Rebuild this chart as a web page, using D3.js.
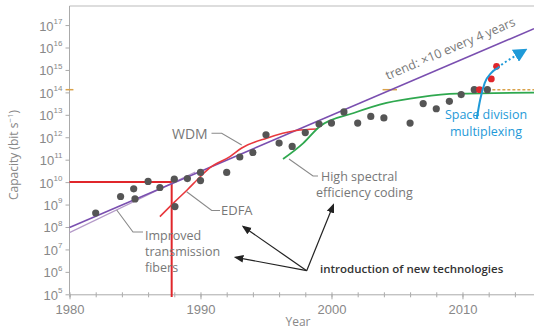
<!DOCTYPE html>
<html>
<head>
<meta charset="utf-8">
<title>Capacity trend</title>
<script src="https://d3js.org/d3.v7.min.js"></script>
<style>
  body { margin: 0; background: #fff; }
  svg { display: block; font-family: "Open Sans", sans-serif; }
  .tick line { stroke: #aaa; }
  .domain { stroke: #aaa; }
</style>
</head>
<body>
<svg id="chart" width="534" height="329"></svg>
<script>
// grey measurement points (year, log10 capacity)
const dotYears = [1982, 1983.9, 1984.9, 1985, 1986, 1986.9, 1988, 1988.05, 1989, 1990, 1990, 1992, 1993, 1994,
                  1995, 1996, 1997, 1998, 1999.05, 2000, 2000.95, 2002, 2003, 2004, 2006, 2007, 2008, 2009, 2009.9, 2010.9, 2011.9];
const dotLogs  = [8.62, 9.36, 9.7, 9.25, 10.03, 9.76, 10.13, 8.91, 10.16, 10.43, 10.07, 10.43, 11.12, 11.32,
                  12.11, 11.74, 11.59, 12.21, 12.59, 12.63, 13.13, 12.63, 12.93, 12.86, 12.63, 13.5, 13.27, 13.6, 13.9, 14.12, 14.12];
// space division multiplexing points (red)
const sdmYears = [2011.3, 2012.2, 2012.6];
const sdmLogs  = [14.12, 14.6, 15.16];

// trend line: x10 every 4 years
const trendYears = [1980, 2015.46];
const trendLogs  = [7.98, 16.84];
// improved transmission fibers (thin line)
const fiberYears = [1980, 1989.6];
const fiberLogs  = [7.75, 10.45];
// EDFA / WDM red curve
const wdmYears = [1986.9, 1988.05, 1989, 1990, 1990.7, 1992.25, 1993.15, 1995.05, 1997.3, 1998.9];
const wdmLogs  = [8.46, 9.13, 9.66, 10.25, 10.63, 11.14, 11.52, 11.96, 12.3, 12.37];
// high spectral efficiency coding (green)
const greenYears = [1996.3, 1997.85, 1999.1, 2001.7, 2004.2, 2006.8, 2009.6, 2015.46];
const greenLogs  = [11.03, 11.74, 12.48, 13.08, 13.53, 13.79, 13.94, 13.99];
// SDM blue curve, solid then dotted
const sdmSolidYears = [2011.1, 2011.35, 2011.7, 2012.2, 2012.7];
const sdmSolidLogs  = [12.86, 13.67, 14.42, 14.87, 15.09];
const sdmDotYears   = [2012.7, 2013.0, 2013.6, 2014.5];
const sdmDotLogs    = [15.09, 15.24, 15.47, 15.79];

const yearTicks  = [1980, 1990, 2000, 2010];
const minorTicks = d3.range(1980, 2015, 2);
const expTicks   = d3.range(5, 18);

const svg = d3.select("#chart");
const x = d3.scaleLinear([1980, 2015.46], [69.5, 534]);
const y = d3.scaleLog([1e5, Math.pow(10, 17.85)], [294.3, 6]);
const P = (yr, lg) => [x(yr), y(Math.pow(10, lg))];
const line = d3.line().x(d => d[0]).y(d => d[1]);
const curve = d3.line().x(d => d[0]).y(d => d[1]).curve(d3.curveMonotoneX);
const zip = (a, b) => a.map((v, i) => P(v, b[i]));

// frame
svg.append("line").attr("x1", x(1980)).attr("x2", 534).attr("y1", 6).attr("y2", 6).attr("stroke", "#bbb");

// x axis
const xg = svg.append("g").attr("transform", `translate(0,${y(1e5)})`);
xg.call(d3.axisBottom(x).tickValues(minorTicks).tickSize(3).tickFormat(""));
xg.append("g").call(d3.axisBottom(x).tickValues(minorTicks).tickSize(-2).tickFormat("")).select(".domain").remove();
const xm = xg.append("g").call(d3.axisBottom(x).tickValues(yearTicks).tickSize(5).tickPadding(5).tickFormat(d3.format("d")));
xm.select(".domain").remove();
xm.selectAll("text").attr("fill", "#888").attr("font-size", 13);

// y axis
const yg = svg.append("g").attr("transform", `translate(${x(1980)},0)`);
yg.call(d3.axisLeft(y).tickValues(expTicks.map(e => Math.pow(10, e))).tickSize(4).tickFormat(""));
yg.select(".domain").attr("d", `M0,${y(1e5)}V6`);
yg.selectAll(".tick").data(expTicks).append("text")
  .attr("x", -7).attr("dy", "0.38em").attr("text-anchor", "end").attr("fill", "#888").attr("font-size", 13)
  .each(function(e) {
    const t = d3.select(this);
    t.append("tspan").text("10");
    t.append("tspan").attr("font-size", 8).attr("dy", "-0.85em").text(e);
  });

// axis titles
svg.append("text").attr("transform", `translate(18,155) rotate(-90)`).attr("text-anchor", "middle")
  .attr("fill", "#888").attr("font-size", 12)
  .html('Capacity (bit s<tspan font-size="8" dy="-5">−1</tspan><tspan dy="5">)</tspan>');
svg.append("text").attr("x", 298).attr("y", 326).attr("text-anchor", "middle").attr("fill", "#888").attr("font-size", 12).text("Year");

// red reference lines at 1e10 / 1988
svg.append("path").attr("d", line([P(1980, 10), P(1987.8, 10)])).attr("stroke", "#e0262b").attr("stroke-width", 2).attr("fill", "none");
svg.append("path").attr("d", line([P(1987.8, 10.1), P(1987.8, 4.88)])).attr("stroke", "#e0262b").attr("stroke-width", 2).attr("fill", "none");

// orange dashed level at 1e14
const orange = "#d9a24a";
svg.append("path").attr("d", line([P(1979.7, 14.12), P(1980.3, 14.12)])).attr("stroke", orange).attr("stroke-width", 1.5);
svg.append("path").attr("d", line([P(2003.9, 14.12), P(2005, 14.12)])).attr("stroke", orange).attr("stroke-width", 1.5);
svg.append("path").attr("d", line([P(2011.9, 14.12), P(2015.46, 14.12)])).attr("stroke", orange).attr("stroke-width", 1.5).attr("stroke-dasharray", "3,2");

// lines
svg.append("path").attr("d", line(zip(fiberYears, fiberLogs))).attr("stroke", "#b49ac8").attr("stroke-width", 1.2).attr("fill", "none");
svg.append("path").attr("d", line(zip(trendYears, trendLogs))).attr("stroke", "#7a4fb0").attr("stroke-width", 1.6).attr("fill", "none");
svg.append("path").attr("d", curve(zip(wdmYears, wdmLogs))).attr("stroke", "#e8383d").attr("stroke-width", 1.6).attr("fill", "none");
svg.append("path").attr("d", curve(zip(greenYears, greenLogs))).attr("stroke", "#2fa84f").attr("stroke-width", 1.8).attr("fill", "none");

// dots
svg.append("g").selectAll("circle").data(dotYears).join("circle")
  .attr("cx", d => x(d)).attr("cy", (d, i) => y(Math.pow(10, dotLogs[i]))).attr("r", 3.6).attr("fill", "#555");
svg.append("g").selectAll("circle").data(sdmYears).join("circle")
  .attr("cx", d => x(d)).attr("cy", (d, i) => y(Math.pow(10, sdmLogs[i]))).attr("r", 3.4).attr("fill", "#e0262b");

// SDM blue curve
const blue = "#1f9ad8";
svg.append("defs").append("marker").attr("id", "bluehead").attr("viewBox", "0 0 10 10").attr("refX", 5).attr("refY", 5)
  .attr("markerWidth", 7).attr("markerHeight", 7).attr("orient", "auto")
  .append("path").attr("d", "M0,0L10,5L0,10z").attr("fill", blue);
svg.select("defs").append("marker").attr("id", "blackhead").attr("viewBox", "0 0 10 10").attr("refX", 8).attr("refY", 5)
  .attr("markerWidth", 8).attr("markerHeight", 8).attr("orient", "auto")
  .append("path").attr("d", "M0,1L10,5L0,9z").attr("fill", "#222");
svg.append("path").attr("d", curve(zip(sdmSolidYears, sdmSolidLogs))).attr("stroke", blue).attr("stroke-width", 2).attr("fill", "none");
svg.append("path").attr("d", curve(zip(sdmDotYears, sdmDotLogs))).attr("stroke", blue).attr("stroke-width", 2)
  .attr("stroke-dasharray", "2,2.5").attr("fill", "none").attr("marker-end", "url(#bluehead)");

// leaders
const grey = "#8a8a8a";
const leader = pts => svg.append("path").attr("d", line(pts)).attr("stroke", grey).attr("stroke-width", 1.1).attr("fill", "none");
leader([[241.7, 145], [221.7, 133.3], [211.5, 133.3]]);
leader([[186.7, 191.7], [211.7, 210.5], [220, 210.5]]);
leader([[116.7, 210], [133, 232], [143, 232]]);
leader([[289, 159], [313, 176], [318, 176]]);

const label = (tx, ty, s, opts = {}) => svg.append("text").attr("x", tx).attr("y", ty).attr("fill", opts.fill || "#777")
  .attr("font-size", opts.size || 12.5).attr("font-weight", opts.weight || 400).attr("text-anchor", opts.anchor || "start").text(s);
label(172, 138.5, "WDM", { size: 14 });
label(221, 215, "EDFA", { size: 13 });
label(145, 240, "Improved", { size: 12.5 });
label(145, 256, "transmission", { size: 12.5 });
label(145, 272, "fibers", { size: 12.5 });
label(321, 181, "High spectral", { size: 12.5 });
label(316, 197, "efficiency coding", { size: 12.5 });
label(486, 119, "Space division", { size: 12.5, fill: blue, anchor: "middle" });
label(486, 136, "multiplexing", { size: 12.5, fill: blue, anchor: "middle" });
label(320, 273, "introduction of new technologies", { size: 11.5, fill: "#333", weight: 600 });

// trend label along the line
const ang = Math.atan2(y(Math.pow(10, trendLogs[1])) - y(Math.pow(10, trendLogs[0])), x(trendYears[1]) - x(trendYears[0])) * 180 / Math.PI;
svg.append("text").attr("transform", `translate(${x(2004.3)},${y(Math.pow(10, 14.55))}) rotate(${ang})`)
  .attr("fill", "#777").attr("font-size", 12.5).text("trend: ×10 every 4 years");

// black arrows
const origin = [306.7, 270.7];
[[243.3, 226.7], [235.7, 257.3], [333.3, 205]].forEach(t => {
  svg.append("path").attr("d", line([origin, t])).attr("stroke", "#222").attr("stroke-width", 1.2)
    .attr("fill", "none").attr("marker-end", "url(#blackhead)");
});
</script>
</body>
</html>
